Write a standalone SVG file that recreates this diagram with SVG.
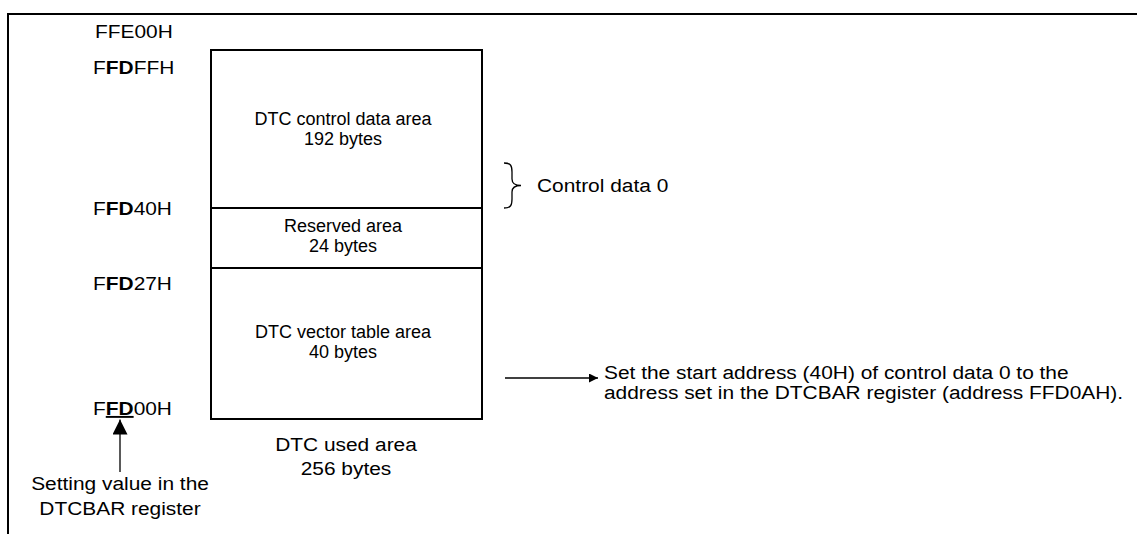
<svg xmlns="http://www.w3.org/2000/svg" width="1137" height="534" viewBox="0 0 1137 534">
<style>
  .ln { fill: none; stroke: #000; stroke-width: 2; }
  .thin { fill: none; stroke: #000; stroke-width: 1.3; }
  .t { font-family: "Liberation Sans", Arial, sans-serif; font-size: 19px; fill: #000; }
  .bt { font-family: "Liberation Sans", Arial, sans-serif; font-size: 18px; fill: #000; text-anchor: middle; }
  .b { font-weight: bold; }
  .mid { text-anchor: middle; }
</style>
<defs>
  <marker id="ahSmall" viewBox="0 0 10 10" refX="10" refY="5" markerWidth="9" markerHeight="9" markerUnits="userSpaceOnUse" orient="auto">
    <path d="M0,0 L10,5 L0,10 Z" fill="#000"/>
  </marker>
  <marker id="ahBig" viewBox="0 0 10 10" refX="10" refY="5" markerWidth="15" markerHeight="15" markerUnits="userSpaceOnUse" orient="auto">
    <path d="M0,0 L10,5 L0,10 Z" fill="#000"/>
  </marker>
</defs>
<rect width="1137" height="534" fill="#fff"/>
<g id="frame">
  <path class="ln" d="M8,534 V14 H1137"/>
</g>
<g id="memory-map">
  <g id="control-data-area">
    <rect class="ln" x="211" y="50" width="271" height="158"/>
    <text class="bt" x="343" y="125">DTC control data area</text>
    <text class="bt" x="343" y="145">192 bytes</text>
  </g>
  <g id="reserved-area">
    <rect class="ln" x="211" y="208" width="271" height="60"/>
    <text class="bt" x="343" y="232">Reserved area</text>
    <text class="bt" x="343" y="252">24 bytes</text>
  </g>
  <g id="vector-table-area">
    <rect class="ln" x="211" y="268" width="271" height="151"/>
    <text class="bt" x="343" y="338">DTC vector table area</text>
    <text class="bt" x="343" y="358">40 bytes</text>
  </g>
  <g id="used-area-label">
    <text class="t mid" transform="translate(346,451) scale(1.1,1)">DTC used area</text>
    <text class="t mid" transform="translate(346,475) scale(1.1,1)">256 bytes</text>
  </g>
</g>
<g id="addresses">
  <text class="t" transform="translate(95,38) scale(1.1,1)">FFE00H</text>
  <text class="t" transform="translate(93,74) scale(1.1,1)">F<tspan class="b">FD</tspan>FFH</text>
  <text class="t" transform="translate(93,215) scale(1.1,1)">F<tspan class="b">FD</tspan>40H</text>
  <text class="t" transform="translate(93,290) scale(1.1,1)">F<tspan class="b">FD</tspan>27H</text>
  <text class="t" transform="translate(93,415) scale(1.1,1)">F<tspan class="b" text-decoration="underline">FD</tspan>00H</text>
</g>
<g id="dtcbar-note">
  <text class="t mid" transform="translate(120,490) scale(1.1,1)">Setting value in the</text>
  <text class="t mid" transform="translate(120,515) scale(1.1,1)">DTCBAR register</text>
</g>
<g id="control-data-0">
  <path class="thin" d="M504,163 C511,163 512,166 512,172 L512,179 C512,183 515,185.5 521,185.5 C515,185.5 512,188 512,192 L512,199 C512,205 511,208 504,208"/>
  <text class="t" transform="translate(537,192) scale(1.1,1)">Control data 0</text>
</g>
<g id="start-address-note">
  <text class="t" transform="translate(604,379) scale(1.1,1)">Set the start address (40H) of control data 0 to the</text>
  <text class="t" transform="translate(604,399) scale(1.1,1)">address set in the DTCBAR register (address FFD0AH).</text>
</g>
<g id="connectors">
  <line class="thin" x1="120" y1="472" x2="120" y2="419.5" marker-end="url(#ahBig)"/>
  <line class="thin" x1="505" y1="378" x2="598" y2="378" marker-end="url(#ahSmall)"/>
</g>
</svg>
